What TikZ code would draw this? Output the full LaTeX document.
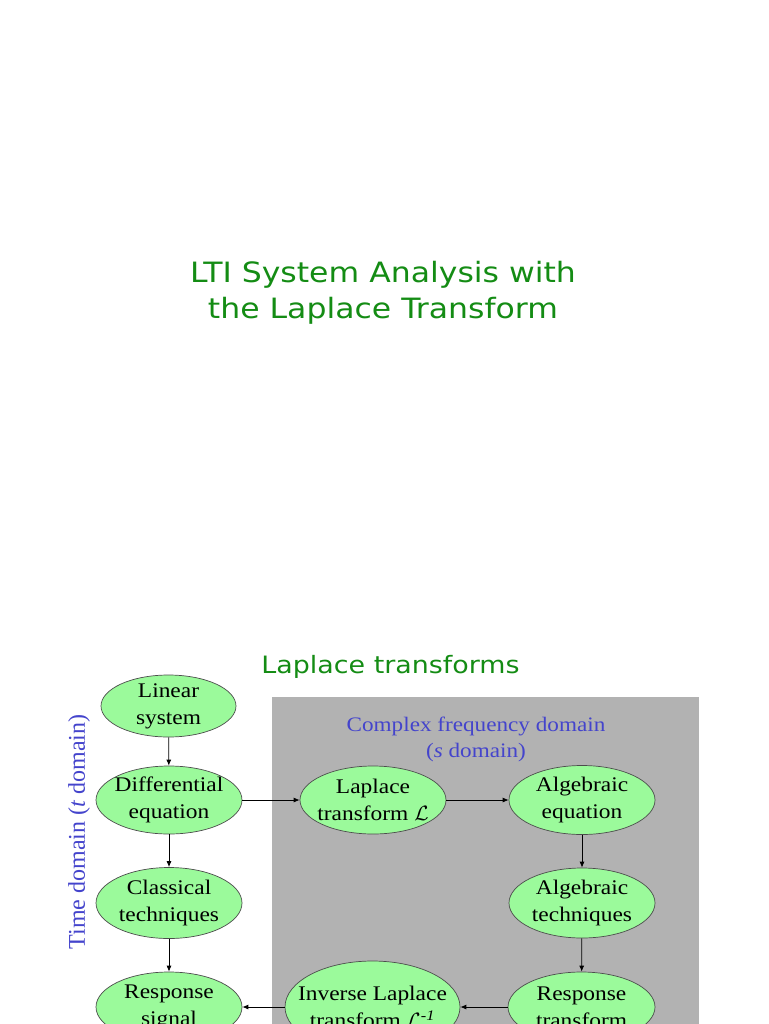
\documentclass[tikz,border=0pt]{standalone}
\usepackage{fontspec}
\setmainfont[FakeStretch=1.125]{Liberation Serif}
\newfontfamily\titlefont[FakeStretch=1.125]{DejaVu Sans}
\newfontfamily\vertfont{Liberation Serif}
\usetikzlibrary{shapes.geometric,arrows.meta}
\definecolor{titlegreen}{RGB}{20,140,20}
\definecolor{domblue}{RGB}{68,68,204}
\definecolor{nodegreen}{RGB}{155,250,155}
\definecolor{panelgray}{RGB}{178,178,178}
\begin{document}
\begin{tikzpicture}[x=1pt,y=1pt,
  blob/.style={ellipse, draw=black!70, line width=0.7pt, fill=nodegreen,
    inner xsep=-30pt, inner ysep=-12pt,
    align=center, font=\fontsize{20.8}{27}\selectfont},
  link/.style={-{Latex[length=6pt,width=5pt]}, line width=0.8pt}]
\useasboundingbox (0,0) rectangle (768,-1024);
\fill[panelgray] (272,-697) rectangle (699,-1024);
% titles
\node[titlegreen, font=\titlefont\fontsize{28}{36}\selectfont, anchor=base, inner sep=0pt] (t1) at (383,-282) {LTI System Analysis with};
\node[titlegreen, font=\titlefont\fontsize{28}{36}\selectfont, anchor=base, inner sep=0pt] (t2) at (383,-318) {the Laplace Transform};
\node[titlegreen, font=\titlefont\fontsize{23.9}{30}\selectfont, anchor=base, inner sep=0pt] (t3) at (390.5,-673) {Laplace transforms};
% domain labels
\node[domblue, align=center, inner sep=0pt, font=\fontsize{20.6}{26}\selectfont] (sdom) at (476,-739) {Complex frequency domain\\(\textit{s} domain)};
\node[domblue, rotate=90, inner sep=0pt, font=\vertfont\fontsize{24}{28}\selectfont] (tdom) at (79,-832) {Time domain (\textit{t} domain)};
% nodes
\node[blob, minimum width=135pt, minimum height=62pt] (lin) at (168.5,-706) {Linear\\system};
\node[blob, minimum width=146pt, minimum height=68pt] (diff) at (169,-800) {Differential\\equation};
\node[blob, minimum width=146pt, minimum height=71pt] (class) at (169,-903) {Classical\\techniques};
\node[blob, minimum width=146pt, minimum height=70pt] (resp) at (169,-1007) {Response\\signal};
\node[blob, minimum width=146pt, minimum height=68pt] (lap) at (373,-800) {Laplace\\transform $\mathcal{L}$};
\node[blob, minimum width=146pt, minimum height=69pt] (algeq) at (582,-800) {Algebraic\\equation};
\node[blob, minimum width=146pt, minimum height=70pt] (algtech) at (582,-903) {Algebraic\\techniques};
\node[blob, minimum width=147pt, minimum height=70pt] (resptr) at (581.5,-1007) {Response\\transform};
\node[blob, minimum width=175pt, minimum height=92pt] (inv) at (372.5,-1007) {Inverse Laplace\\transform $\mathcal{L}$\textsuperscript{\textit{-1}}};
% connectors
\draw[link] (lin) -- (diff);
\draw[link] (diff) -- (class);
\draw[link] (class) -- (resp);
\draw[link] (diff) -- (lap);
\draw[link] (lap) -- (algeq);
\draw[link] (algeq) -- (algtech);
\draw[link] (algtech) -- (resptr);
\draw[link] (resptr) -- (inv);
\draw[link] (inv) -- (resp);
\end{tikzpicture}
\end{document}
